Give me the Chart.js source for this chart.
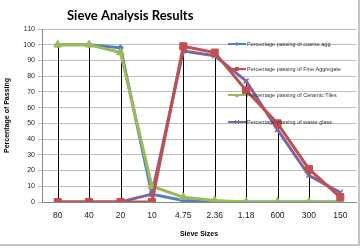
<!DOCTYPE html>
<html>
<head>
<meta charset="utf-8">
<script src="https://cdn.jsdelivr.net/npm/chart.js@4"></script>
<style>
  html, body { margin: 0; padding: 0; background: #fff; }
  #wrap { width: 362px; height: 250px; }
</style>
</head>
<body>
<div id="wrap"><canvas id="canvas" width="362" height="250"></canvas></div>
<script>
let sieveSizes = ['80', '40', '20', '10', '4.75', '2.36', '1.18', '600', '300', '150'];
let coarseAgg = [100, 100, 98, 5, 1, 0, 0, 0, 0, 0];
let fineAgg = [0, 0, 0, 0, 99, 95, 71, 50, 21, 3];
let ceramicTiles = [100, 100, 95, 10, 3, 1, 0, 0, 0, 0];
let wasteGlass = [0, 0, 0, 5, 96, 93, 77, 46, 17, 6];
let yTicks = [0, 10, 20, 30, 40, 50, 60, 70, 80, 90, 100, 110];

let ctx = document.getElementById('canvas').getContext('2d');

// excel style drop lines, title, legend and frame
let extras = {
    id: 'extras',
    beforeDatasetsDraw(chart) {
        let c = chart.ctx;
        let x = chart.scales.x, y = chart.scales.y;
        c.save();
        c.strokeStyle = '#000';
        c.lineWidth = 1;
        sieveSizes.forEach((s, i) => {
            let top = Math.max(coarseAgg[i], fineAgg[i], ceramicTiles[i], wasteGlass[i]);
            let px = Math.round(x.getPixelForValue(i)) + 0.5;
            c.beginPath();
            c.moveTo(px, y.getPixelForValue(top));
            c.lineTo(px, y.getPixelForValue(0));
            c.stroke();
        });
        c.restore();
    },
    afterDraw(chart) {
        let c = chart.ctx;
        c.save();
        // title
        c.fillStyle = '#000';
        c.font = 'bold 13px Lato';
        c.textBaseline = 'middle';
        c.fillText('Sieve Analysis Results', 67, 16);
        // legend
        let rows = [44, 69, 95, 122];
        c.font = '5.5px "Liberation Sans"';
        chart.data.datasets.forEach((ds, i) => {
            let ly = rows[i];
            c.strokeStyle = ds.borderColor;
            c.lineWidth = 2;
            c.beginPath();
            c.moveTo(228, ly);
            c.lineTo(246, ly);
            c.stroke();
            c.fillStyle = ds.backgroundColor;
            c.beginPath();
            if (ds.pointStyle === 'rectRot') {
                c.moveTo(237, ly - 2); c.lineTo(239, ly); c.lineTo(237, ly + 2); c.lineTo(235, ly);
                c.fill();
            } else if (ds.pointStyle === 'rect') {
                c.fillRect(235, ly - 2, 4, 4);
            } else if (ds.pointStyle === 'triangle') {
                c.moveTo(237, ly - 2); c.lineTo(239, ly + 2); c.lineTo(235, ly + 2);
                c.fill();
            } else {
                c.lineWidth = 1;
                c.moveTo(235, ly - 2); c.lineTo(239, ly + 2);
                c.moveTo(239, ly - 2); c.lineTo(235, ly + 2);
                c.stroke();
            }
            c.fillStyle = '#333';
            c.textBaseline = 'middle';
            c.fillText(ds.label, 247, ly);
        });
        // chart frame
        c.strokeStyle = '#c4c4c4';
        c.lineWidth = 2;
        c.strokeRect(-2, -2, 361, 247);
        c.restore();
    }
};

let myLineChart = new Chart(ctx, {
    type: 'line',
    data: {
        labels: sieveSizes,
        datasets: [{
            label: 'Percentage passing of coarse agg',
            data: coarseAgg,
            borderColor: '#4f81bd',
            backgroundColor: '#4f81bd',
            pointStyle: 'rectRot',
            pointRadius: 3,
            order: 4
        }, {
            label: 'Percentage passing of Fine Aggregate',
            data: fineAgg,
            borderColor: '#c0504d',
            backgroundColor: '#c0504d',
            pointStyle: 'rect',
            pointRadius: 5,
            order: 1
        }, {
            label: 'Percentage passing of Ceramic Tiles',
            data: ceramicTiles,
            borderColor: '#9bbb59',
            backgroundColor: '#9bbb59',
            pointStyle: 'triangle',
            pointRadius: 4.5,
            order: 2
        }, {
            label: 'Percentage passing of waste glass',
            data: wasteGlass,
            borderColor: '#8064a2',
            backgroundColor: '#8064a2',
            pointStyle: 'crossRot',
            pointRadius: 3.5,
            pointBorderWidth: 1.5,
            order: 3
        }]
    },
    options: {
        responsive: false,
        animation: false,
        elements: { line: { borderWidth: 3, tension: 0 } },
        layout: { padding: { left: 0, right: 3, top: 29, bottom: 0 } },
        plugins: { legend: { display: false }, tooltip: { enabled: false } },
        scales: {
            x: {
                offset: true,
                grid: { display: false, drawTicks: false },
                border: { color: '#888' },
                ticks: { color: '#222', font: { size: 8.5, family: 'Liberation Sans' }, padding: 9 },
                title: { display: true, text: 'Sieve Sizes', color: '#000', font: { size: 7, weight: 'bold', family: 'Liberation Sans' }, padding: { top: 0, bottom: 12 } },
                afterFit: s => { s.height = 48; }
            },
            y: {
                min: 0,
                max: 110,
                afterBuildTicks: s => { s.ticks = yTicks.map(v => ({ value: v })); },
                grid: { color: '#bdbdbd', lineWidth: 1, tickLength: 4 },
                border: { color: '#888' },
                ticks: { color: '#222', font: { size: 7, family: 'Liberation Sans' }, padding: 3 },
                title: { display: true, text: 'Percentage of Passing', color: '#000', font: { size: 7, weight: 'bold', family: 'Liberation Sans' }, padding: { top: 3, bottom: 0 } },
                afterFit: s => { s.width = 42; }
            }
        }
    },
    plugins: [extras]
});
</script>
</body>
</html>
